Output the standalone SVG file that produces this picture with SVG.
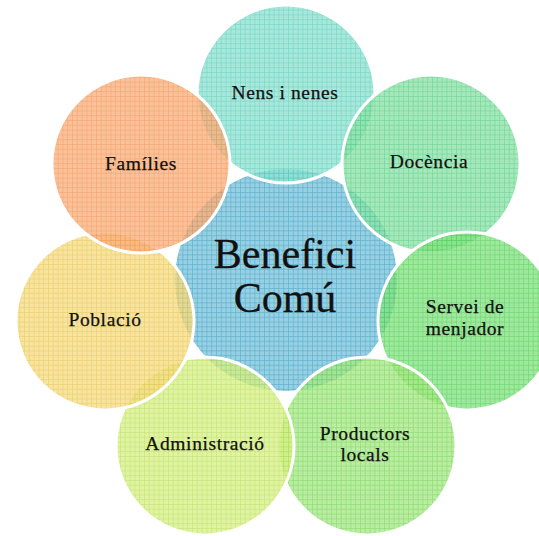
<svg xmlns="http://www.w3.org/2000/svg" width="539" height="536" viewBox="0 0 539 536">
<style>
.lbl{font-family:"Liberation Serif","DejaVu Serif",serif;font-size:19.5px;letter-spacing:0.6px;fill:#111;stroke:#111;stroke-width:0.25;text-anchor:middle}
.ctr{font-family:"Liberation Serif","DejaVu Serif",serif;font-size:42px;fill:#111;stroke:#111;stroke-width:0.3;text-anchor:middle}
.oc{fill-opacity:0.78;stroke:#fff;stroke-width:3}
</style>
<defs>
<pattern id="pC" width="4.8" height="4.8" patternUnits="userSpaceOnUse"><rect width="4.8" height="4.8" fill="#98d0e3"/><path d="M0 0.4H4.8M0.4 0V4.8" stroke="#62b2cf" stroke-width="0.8"/></pattern>
<pattern id="p1" width="4.8" height="4.8" patternUnits="userSpaceOnUse"><rect width="4.8" height="4.8" fill="#8fe2d2"/><path d="M0 0.4H4.8M0.4 0V4.8" stroke="#55ccb6" stroke-width="0.8"/></pattern>
<pattern id="p2" width="4.8" height="4.8" patternUnits="userSpaceOnUse"><rect width="4.8" height="4.8" fill="#8de2a8"/><path d="M0 0.4H4.8M0.4 0V4.8" stroke="#52cc80" stroke-width="0.8"/></pattern>
<pattern id="p3" width="4.8" height="4.8" patternUnits="userSpaceOnUse"><rect width="4.8" height="4.8" fill="#84e284"/><path d="M0 0.4H4.8M0.4 0V4.8" stroke="#4ccc4c" stroke-width="0.8"/></pattern>
<pattern id="p4" width="4.8" height="4.8" patternUnits="userSpaceOnUse"><rect width="4.8" height="4.8" fill="#a6e886"/><path d="M0 0.4H4.8M0.4 0V4.8" stroke="#74d450" stroke-width="0.8"/></pattern>
<pattern id="p5" width="4.8" height="4.8" patternUnits="userSpaceOnUse"><rect width="4.8" height="4.8" fill="#d6f088"/><path d="M0 0.4H4.8M0.4 0V4.8" stroke="#bcdf55" stroke-width="0.8"/></pattern>
<pattern id="p6" width="4.8" height="4.8" patternUnits="userSpaceOnUse"><rect width="4.8" height="4.8" fill="#f5dc84"/><path d="M0 0.4H4.8M0.4 0V4.8" stroke="#e8c44a" stroke-width="0.8"/></pattern>
<pattern id="p7" width="4.8" height="4.8" patternUnits="userSpaceOnUse"><rect width="4.8" height="4.8" fill="#f9b07e"/><path d="M0 0.4H4.8M0.4 0V4.8" stroke="#f2904c" stroke-width="0.8"/></pattern>
</defs>
<rect width="539" height="536" fill="#fff"/>
<g id="center-shape"><circle cx="286" cy="280" r="111" fill="url(#pC)"/></g>
<g id="connectors"></g>
<g id="n1"><circle class="oc" cx="286" cy="94" r="89" fill="url(#p1)"/><text class="lbl" x="285" y="99">Nens i nenes</text></g>
<g id="n2"><circle class="oc" cx="431" cy="164" r="89" fill="url(#p2)"/><text class="lbl" x="429" y="168">Docència</text></g>
<g id="n3"><circle class="oc" cx="467" cy="321" r="89" fill="url(#p3)"/><text class="lbl" x="465" y="313">Servei de</text><text class="lbl" x="465" y="335">menjador</text></g>
<g id="n4"><circle class="oc" cx="367" cy="446" r="89" fill="url(#p4)"/><text class="lbl" x="365" y="440">Productors</text><text class="lbl" x="365" y="461">locals</text></g>
<g id="n5"><circle class="oc" cx="205" cy="446" r="89" fill="url(#p5)"/><text class="lbl" x="205" y="450">Administració</text></g>
<g id="n6"><circle class="oc" cx="105" cy="321" r="89" fill="url(#p6)"/><text class="lbl" x="105" y="326">Població</text></g>
<g id="n7"><circle class="oc" cx="141" cy="164" r="89" fill="url(#p7)"/><text class="lbl" x="141" y="170">Famílies</text></g>
<g id="center"><text class="ctr" x="285" y="268">Benefici</text><text class="ctr" x="285" y="312">Comú</text></g>
</svg>
